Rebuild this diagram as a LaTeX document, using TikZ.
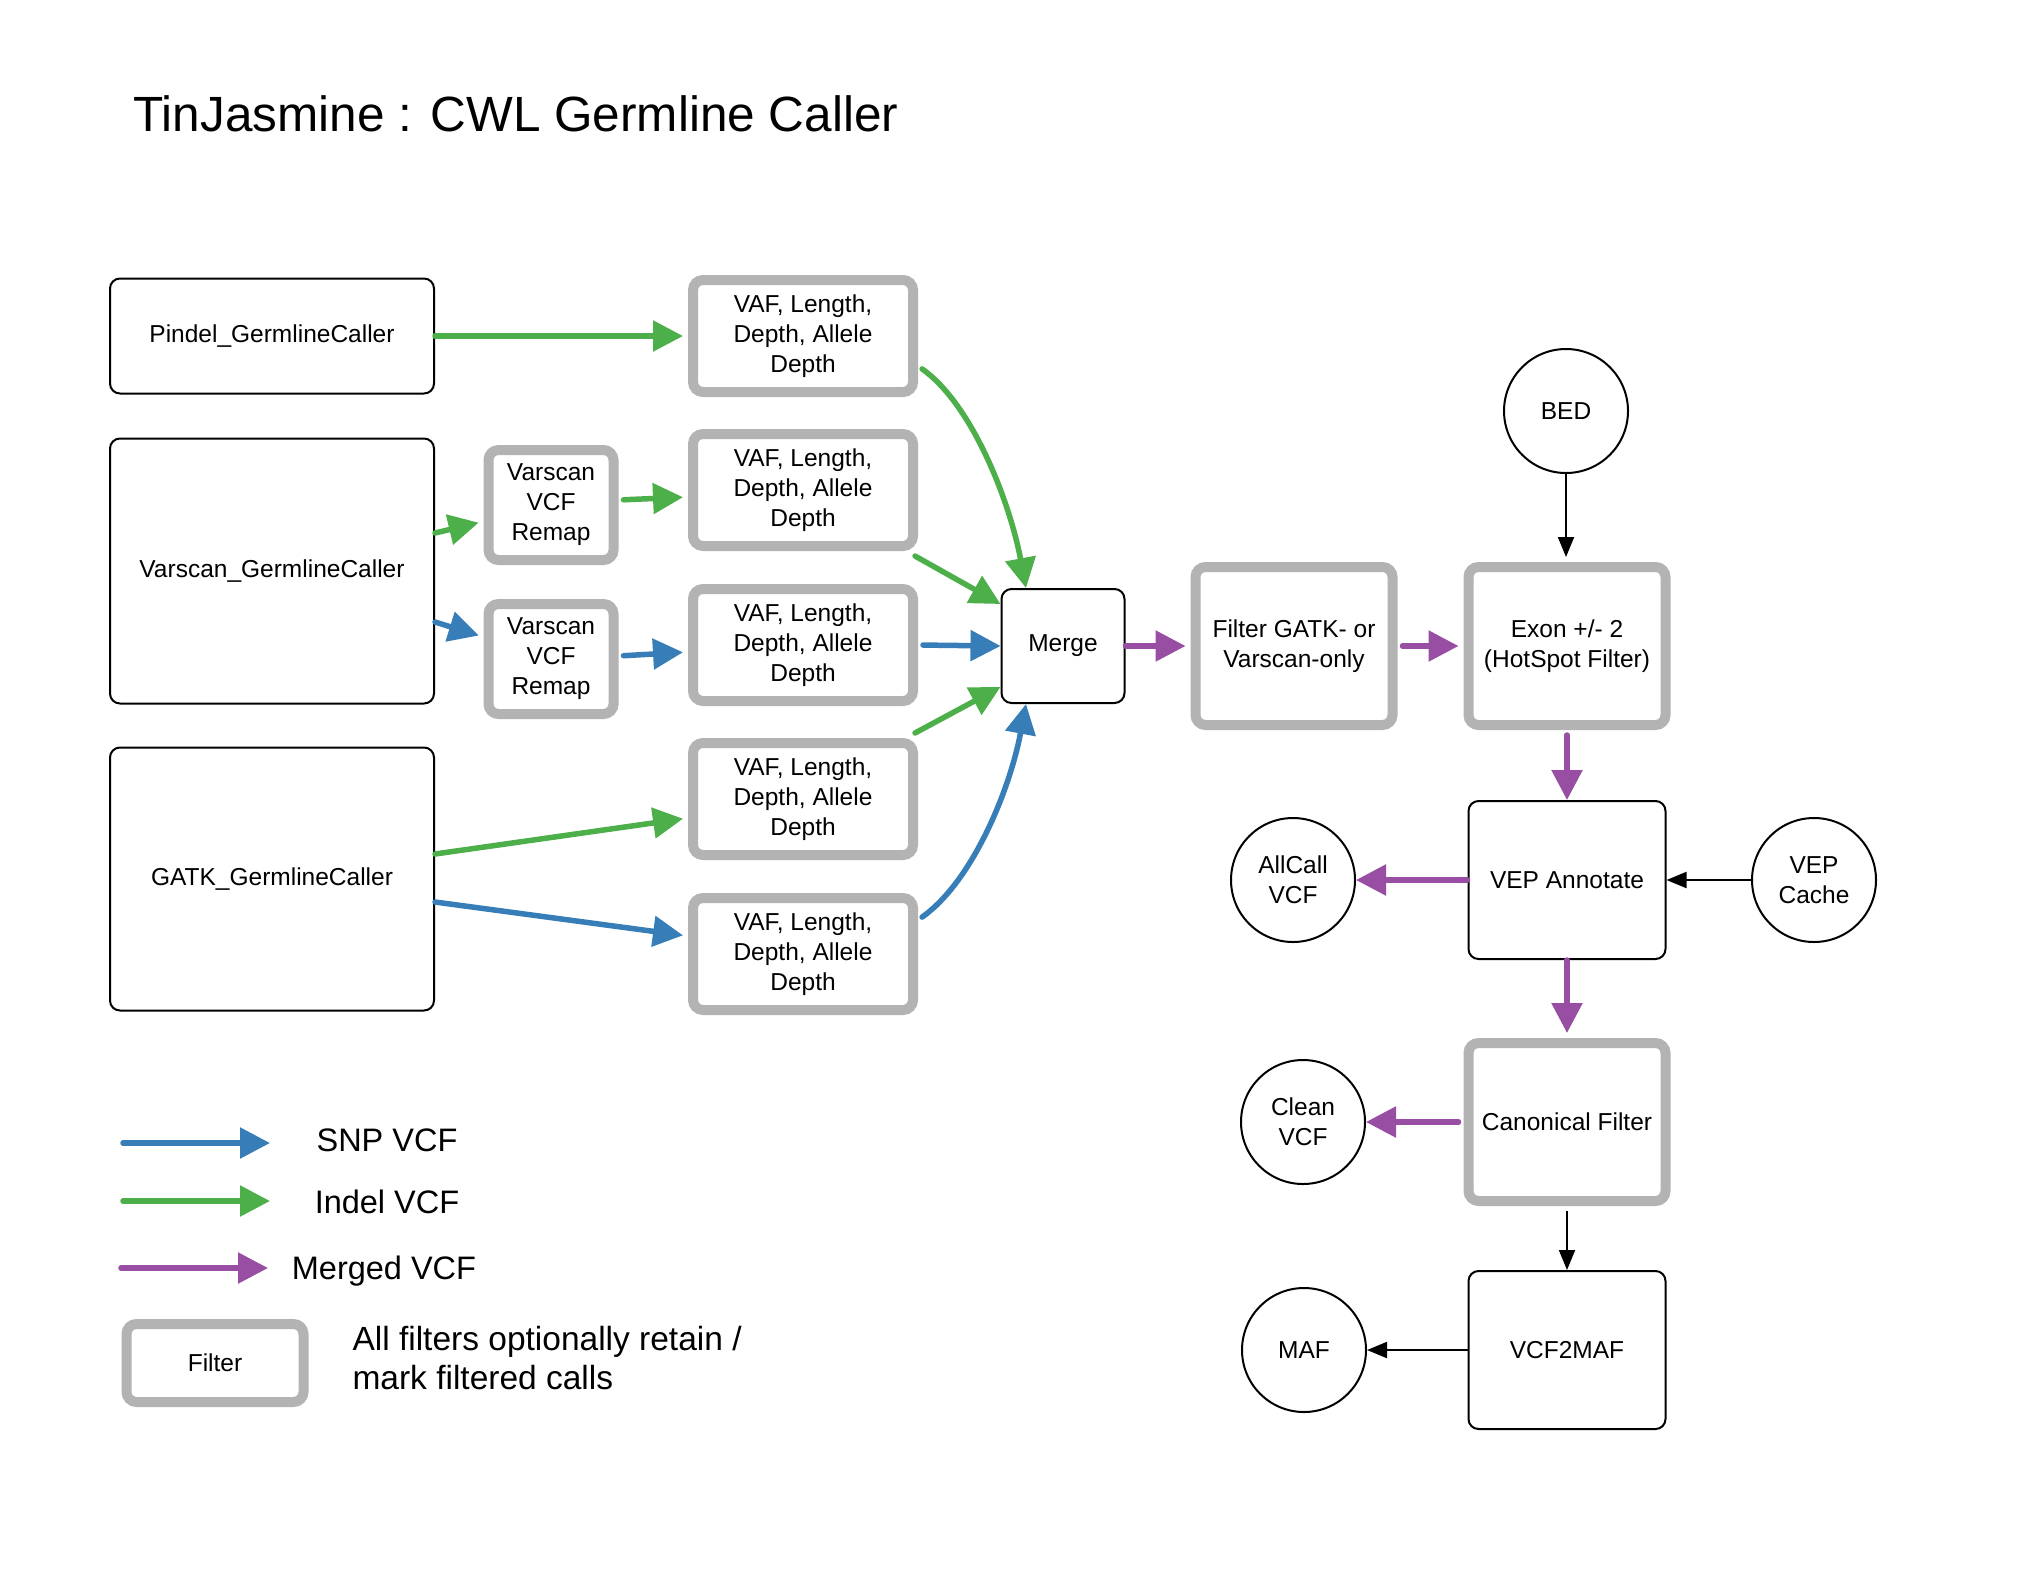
\documentclass[tikz,border=0pt]{standalone}
\usepackage{fontspec}
\setmainfont{Liberation Sans}
\usetikzlibrary{arrows.meta,calc}
\definecolor{cgreen}{HTML}{4DAF4A}
\definecolor{cblue}{HTML}{377EB8}
\definecolor{cpurple}{HTML}{984EA3}
\definecolor{cgray}{HTML}{B3B3B3}
\begin{document}
\begin{tikzpicture}[x=1pt,y=-1pt,
  every node/.style={font=\fontsize{24.5}{30}\selectfont, align=center},
  plain/.style={draw=black, line width=2pt, rounded corners=10pt, inner sep=0pt},
  filt/.style={draw=cgray, line width=10pt, rounded corners=10pt, inner sep=0pt},
  circ/.style={draw=black, line width=2pt, circle, minimum size=124pt, inner sep=0pt},
  carrow/.style={line width=5.5pt, line cap=round, -{Triangle[length=30pt,width=30pt]}},
  ga/.style={carrow, draw=cgreen},
  ba/.style={carrow, draw=cblue},
  pa/.style={carrow, draw=cpurple},
  ka/.style={line width=2pt, draw=black, -{Triangle[length=20pt,width=16pt]}},
  vafbox/.style={filt, minimum width=220pt, minimum height=112pt},
  remapbox/.style={filt, minimum width=125pt, minimum height=110pt},
  bigfilt/.style={filt, minimum width=197pt, minimum height=158pt},
  callerbox/.style={plain, minimum width=324pt},
  procbox/.style={plain, minimum width=197pt, minimum height=158pt},
  legtext/.style={font=\fontsize{32.5}{39}\selectfont}
]
\fill[white] (0,0) rectangle (2029,1583);

% title
\node[anchor=west, font=\fontsize{49.5}{60}\selectfont] (title) at (130,114) {TinJasmine : CWL Germline Caller};

% callers
\node[callerbox, minimum height=115pt] (pindel) at (272,336) {Pindel\_GermlineCaller};
\node[callerbox, minimum height=265pt] (vscan) at (272,571) {Varscan\_GermlineCaller};
\node[callerbox, minimum height=263pt] (gatk) at (272,879) {GATK\_GermlineCaller};

% remap
\node[remapbox] (remap1) at (551,505) {Varscan\\VCF\\Remap};
\node[remapbox] (remap2) at (551,659) {Varscan\\VCF\\Remap};

% VAF filters
\node[vafbox] (vaf1) at (803,336) {VAF, Length,\\Depth, Allele\\Depth};
\node[vafbox] (vaf2) at (803,490) {VAF, Length,\\Depth, Allele\\Depth};
\node[vafbox] (vaf3) at (803,645) {VAF, Length,\\Depth, Allele\\Depth};
\node[vafbox] (vaf4) at (803,799) {VAF, Length,\\Depth, Allele\\Depth};
\node[vafbox] (vaf5) at (803,954) {VAF, Length,\\Depth, Allele\\Depth};

% merge and downstream
\node[plain, minimum width=123pt, minimum height=114pt] (merge) at (1063,646) {Merge};
\node[bigfilt] (filter) at (1294,646) {Filter GATK- or\\Varscan-only};
\node[bigfilt] (exon) at (1567,646) {Exon +/- 2\\(HotSpot Filter)};
\node[circ] (bed) at (1566,411) {BED};
\node[procbox] (vep) at (1567,880) {VEP Annotate};
\node[circ] (allcall) at (1293,880) {AllCall\\VCF};
\node[circ] (vepcache) at (1814,880) {VEP\\Cache};
\node[bigfilt] (canon) at (1567,1122) {Canonical Filter};
\node[circ] (clean) at (1303,1122) {Clean\\VCF};
\node[procbox] (vcf2maf) at (1567,1350) {VCF2MAF};
\node[circ] (maf) at (1304,1350) {MAF};

% caller arrows
\draw[ga, shorten >=5pt] (pindel.east) -- (vaf1.west);
\draw[ga, shorten >=5pt] ([yshift=38pt]vscan.east) -- ([yshift=-16.5pt]remap1.west);
\draw[ba, shorten >=5pt] ([yshift=-51pt]vscan.east) -- ([yshift=22pt]remap2.west);
\draw[ga, shorten <=5pt, shorten >=5pt] ([yshift=5pt]remap1.east) -- ([yshift=-7pt]vaf2.west);
\draw[ba, shorten <=5pt, shorten >=5pt] ([yshift=3pt]remap2.east) -- ([yshift=-7pt]vaf3.west);
\draw[ga, shorten >=5pt] ([yshift=25pt]gatk.east) -- ([yshift=-19pt]vaf4.west);
\draw[ba, shorten >=5pt] ([yshift=-23pt]gatk.east) -- ([yshift=18pt]vaf5.west);

% into merge
\draw[ga, shorten <=5pt] ([yshift=-30pt]vaf1.east) .. controls +(55,39) and +(-16,-85) .. ([xshift=-37pt]merge.north);
\draw[ga] ($(vaf2.south east)+(-3,5)$) -- ([yshift=42pt]merge.west);
\draw[ba, shorten <=5pt] (vaf3.east) -- (merge.west);
\draw[ga] ($(vaf4.north east)+(-3,-5)$) -- ([yshift=-41pt]merge.west);
\draw[ba, shorten <=5pt] ([yshift=34pt]vaf5.east) .. controls +(55,-39) and +(-16,85) .. ([xshift=-37pt]merge.south);

% downstream arrows
\draw[pa, shorten >=5pt] (merge.east) -- (filter.west);
\draw[pa, shorten <=5pt, shorten >=5pt] (filter.east) -- (exon.west);
\draw[ka, shorten >=5pt] (bed.south) -- (bed.south |- exon.north);
\draw[pa, shorten <=5pt] (exon.south) -- (vep.north);
\draw[pa] (vep.west) -- (allcall.east);
\draw[ka] (vepcache.west) -- (vep.east);
\draw[pa, shorten >=5pt] (vep.south) -- (canon.north);
\draw[pa, shorten <=5pt] (canon.west) -- (clean.east);
\draw[ka, shorten <=5pt] (canon.south) -- (vcf2maf.north);
\draw[ka] (vcf2maf.west) -- (maf.east);

% legend
\coordinate (snpa) at (123,1143); \coordinate (snpb) at (270,1143);
\coordinate (inda) at (123,1201); \coordinate (indb) at (270,1201);
\coordinate (mera) at (121,1268); \coordinate (merb) at (268,1268);
\draw[ba] (snpa) -- (snpb);
\draw[ga] (inda) -- (indb);
\draw[pa] (mera) -- (merb);
\node[legtext] (lsnp) at (387,1140) {SNP VCF};
\node[legtext] (lind) at (387,1202) {Indel VCF};
\node[legtext] (lmer) at (384,1271) {Merged VCF};
\node[filt, minimum width=177pt, minimum height=78pt] (lfilt) at (215,1363) {Filter};
\node[anchor=west, align=left, font=\fontsize{33.5}{39}\selectfont] (lnote) at (349,1358) {All filters optionally retain /\\mark filtered calls};
\end{tikzpicture}
\end{document}
